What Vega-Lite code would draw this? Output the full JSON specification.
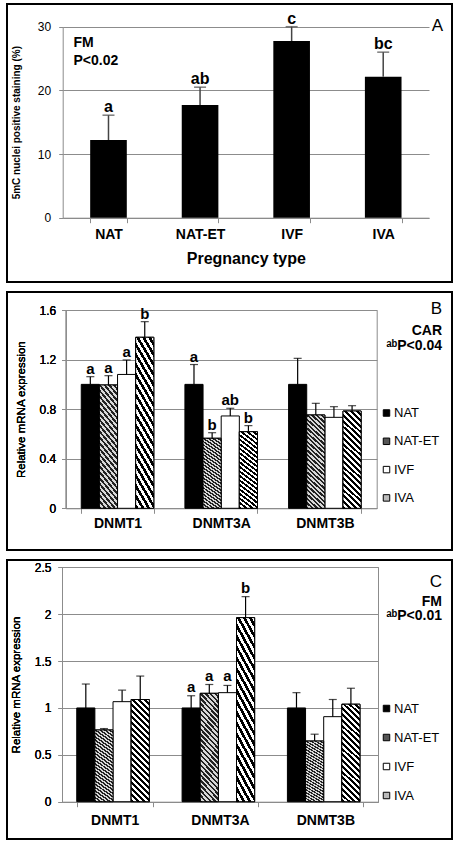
{
"$schema": "https://vega.github.io/schema/vega-lite/v6.json",
"background": "white",
"padding": {"left": 6, "top": 3, "right": 8, "bottom": 6},
"spacing": 8,
"resolve": {"scale": {"fill": "independent"}, "legend": {"fill": "independent"}},
"config": {
  "font": "Liberation Sans",
  "view": {"stroke": "black", "strokeWidth": 2},
  "axis": {"labelColor": "black", "titleColor": "black", "domainColor": "#8c8c8c", "tickColor": "#8c8c8c", "gridColor": "#8c8c8c", "labelFont": "Liberation Sans", "titleFont": "Liberation Sans"},
  "legend": {"labelFont": "Liberation Sans"},
  "title": {"font": "Liberation Sans", "color": "black", "subtitleColor": "black", "subtitleFont": "Liberation Sans", "anchor": "end", "frame": "group", "fontWeight": "normal"}
},
"datasets": {
  "A": [
    {"type": "NAT", "value": 12.2, "err": 16.1, "letter": "a"},
    {"type": "NAT-ET", "value": 17.7, "err": 20.5, "letter": "ab"},
    {"type": "IVF", "value": 27.75, "err": 30, "letter": "c"},
    {"type": "IVA", "value": 22.15, "err": 26.0, "letter": "bc"}
  ],
  "B": [
    {"gene": "DNMT1", "type": "NAT", "value": 1.0, "err": 1.062, "letter": "a"},
    {"gene": "DNMT1", "type": "NAT-ET", "value": 0.995, "err": 1.07, "letter": "a"},
    {"gene": "DNMT1", "type": "IVF", "value": 1.08, "err": 1.197, "letter": "a"},
    {"gene": "DNMT1", "type": "IVA", "value": 1.38, "err": 1.506, "letter": "b"},
    {"gene": "DNMT3A", "type": "NAT", "value": 1.0, "err": 1.16, "letter": "a"},
    {"gene": "DNMT3A", "type": "NAT-ET", "value": 0.565, "err": 0.61, "letter": "b"},
    {"gene": "DNMT3A", "type": "IVF", "value": 0.745, "err": 0.807, "letter": "ab"},
    {"gene": "DNMT3A", "type": "IVA", "value": 0.618, "err": 0.667, "letter": "b"},
    {"gene": "DNMT3B", "type": "NAT", "value": 1.0, "err": 1.21, "letter": ""},
    {"gene": "DNMT3B", "type": "NAT-ET", "value": 0.753, "err": 0.847, "letter": ""},
    {"gene": "DNMT3B", "type": "IVF", "value": 0.734, "err": 0.82, "letter": ""},
    {"gene": "DNMT3B", "type": "IVA", "value": 0.785, "err": 0.828, "letter": ""}
  ],
  "C": [
    {"gene": "DNMT1", "type": "NAT", "value": 1.0, "err": 1.255, "letter": ""},
    {"gene": "DNMT1", "type": "NAT-ET", "value": 0.765, "err": 0.78, "letter": ""},
    {"gene": "DNMT1", "type": "IVF", "value": 1.067, "err": 1.19, "letter": ""},
    {"gene": "DNMT1", "type": "IVA", "value": 1.09, "err": 1.34, "letter": ""},
    {"gene": "DNMT3A", "type": "NAT", "value": 1.0, "err": 1.13, "letter": "a"},
    {"gene": "DNMT3A", "type": "NAT-ET", "value": 1.156, "err": 1.25, "letter": "a"},
    {"gene": "DNMT3A", "type": "IVF", "value": 1.163, "err": 1.24, "letter": "a"},
    {"gene": "DNMT3A", "type": "IVA", "value": 1.963, "err": 2.187, "letter": "b"},
    {"gene": "DNMT3B", "type": "NAT", "value": 1.0, "err": 1.163, "letter": ""},
    {"gene": "DNMT3B", "type": "NAT-ET", "value": 0.647, "err": 0.72, "letter": ""},
    {"gene": "DNMT3B", "type": "IVF", "value": 0.907, "err": 1.09, "letter": ""},
    {"gene": "DNMT3B", "type": "IVA", "value": 1.04, "err": 1.21, "letter": ""}
  ]
},
"vconcat": [
  {
    "width": 445, "height": 278,
    "title": {"text": "A", "fontSize": 17, "offset": -31, "dx": -9},
    "data": {"name": "A"},
    "encoding": {
      "x": {"field": "type", "type": "nominal", "sort": null,
        "scale": {"domain": ["NAT", "NAT-ET", "IVF", "IVA"], "range": [55.7, 422], "paddingInner": 0.6, "paddingOuter": 0.3},
        "axis": {"orient": "bottom", "offset": -64.3, "tickBand": "extent", "labelAngle": 0, "title": "Pregnancy type", "labelFontWeight": "bold", "labelFontSize": 14, "labelPadding": 5, "tickSize": 5, "titleFontSize": 16, "titleFontWeight": "bold", "titlePadding": 9}},
      "y": {"field": "value", "type": "quantitative",
        "scale": {"domain": [0, 30], "range": [213.7, 22.7], "nice": false},
        "axis": {"orient": "left", "offset": -55.7, "values": [0, 10, 20, 30], "grid": true, "tickSize": 4, "labelFontSize": 12, "labelPadding": 8, "title": "5mC nuclei positive  staining (%)", "titleFontSize": 10, "titleFontWeight": "bold", "titlePadding": 16}}
    },
    "layer": [
      {"mark": {"type": "bar", "fill": "black"}},
      {"mark": {"type": "rule", "color": "#444", "strokeWidth": 1.5},
       "encoding": {"y": {"field": "value", "type": "quantitative", "axis": null}, "y2": {"field": "err"}}},
      {"mark": {"type": "tick", "orient": "horizontal", "color": "#444", "size": 12, "thickness": 1.5},
       "encoding": {"y": {"field": "err", "type": "quantitative", "axis": null}}},
      {"mark": {"type": "text", "fontWeight": "bold", "fontSize": 16, "dy": -8},
       "encoding": {"y": {"field": "err", "type": "quantitative", "axis": null}, "text": {"field": "letter"}}},
      {"transform": [{"filter": "datum.type === 'NAT'"}],
       "mark": {"type": "text", "align": "left", "baseline": "top", "fontWeight": "bold", "fontSize": 14, "lineHeight": 18, "dx": -35, "color": "black", "text": ["FM", "P<0.02"]},
       "encoding": {"y": {"datum": 28.6, "type": "quantitative", "axis": null}}}
    ],
    "resolve": {"axis": {"y": "independent"}}
  },
  {
    "width": 445, "height": 258,
    "title": {"text": "B", "fontSize": 17, "offset": -62, "dx": -10, "subtitle": ["CAR", "ᵃᵇP<0.04"], "subtitleFontSize": 14, "subtitleFontWeight": "bold", "subtitleLineHeight": 15, "subtitlePadding": 6},
    "data": {"name": "B"},
    "encoding": {
      "x": {"field": "gene", "type": "nominal", "sort": null,
        "scale": {"domain": ["DNMT1", "DNMT3A", "DNMT3B"], "range": [58.7, 369.7], "paddingInner": 0.3, "paddingOuter": 0.15},
        "axis": {"orient": "bottom", "offset": -41.7, "tickBand": "extent", "labelAngle": 0, "title": null, "labelFontWeight": "bold", "labelFontSize": 14, "labelPadding": 3, "tickSize": 5}},
      "xOffset": {"field": "type", "type": "nominal", "sort": null, "scale": {"domain": ["NAT", "NAT-ET", "IVF", "IVA"], "paddingInner": 0, "paddingOuter": 0}},
      "y": {"field": "value", "type": "quantitative",
        "scale": {"domain": [0, 1.6], "range": [216.3, 18], "nice": false},
        "axis": {"orient": "left", "offset": -58.7, "values": [0, 0.4, 0.8, 1.2, 1.6], "format": "~g", "grid": true, "tickSize": 4, "labelFontSize": 12, "labelPadding": 6, "title": "Relative mRNA expression", "titleFontSize": 11.5, "titleFontWeight": "normal", "titlePadding": 13}}
    },
    "layer": [
      {"mark": {"type": "bar", "stroke": "black", "strokeWidth": 1},
       "encoding": {"fill": {"field": "type", "type": "nominal", "sort": null,
         "scale": {"domain": ["NAT", "NAT-ET", "IVF", "IVA"], "range": ["black", "#555555", "white", "#bbbbbb"]},
         "legend": {"orient": "none", "legendX": 373, "legendY": 114.5, "title": null, "symbolType": "square", "symbolSize": 42, "symbolStrokeColor": "black", "symbolStrokeWidth": 1, "labelFontSize": 13, "labelOffset": 1, "rowPadding": 14.3, "labelColor": "black"}}}},
      {"transform": [{"filter": "datum.type === 'NAT-ET'"}],
       "mark": {"type": "bar", "stroke": "black", "strokeWidth": 1,
         "fill": {"gradient": "linear", "x1": 0, "y1": 1, "x2": 0.206, "y2": -0.143, "stops": [
             {"offset": 0, "color": "#222"}, {"offset": 0.02, "color": "#222"}, {"offset": 0.02, "color": "#d8d8d8"}, {"offset": 0.04, "color": "#d8d8d8"},
             {"offset": 0.04, "color": "#222"}, {"offset": 0.06, "color": "#222"}, {"offset": 0.06, "color": "#d8d8d8"}, {"offset": 0.08, "color": "#d8d8d8"},
             {"offset": 0.08, "color": "#222"}, {"offset": 0.1, "color": "#222"}, {"offset": 0.1, "color": "#d8d8d8"}, {"offset": 0.12, "color": "#d8d8d8"},
             {"offset": 0.12, "color": "#222"}, {"offset": 0.14, "color": "#222"}, {"offset": 0.14, "color": "#d8d8d8"}, {"offset": 0.16, "color": "#d8d8d8"},
             {"offset": 0.16, "color": "#222"}, {"offset": 0.18, "color": "#222"}, {"offset": 0.18, "color": "#d8d8d8"}, {"offset": 0.2, "color": "#d8d8d8"},
             {"offset": 0.2, "color": "#222"}, {"offset": 0.22, "color": "#222"}, {"offset": 0.22, "color": "#d8d8d8"}, {"offset": 0.24, "color": "#d8d8d8"},
             {"offset": 0.24, "color": "#222"}, {"offset": 0.26, "color": "#222"}, {"offset": 0.26, "color": "#d8d8d8"}, {"offset": 0.28, "color": "#d8d8d8"},
             {"offset": 0.28, "color": "#222"}, {"offset": 0.3, "color": "#222"}, {"offset": 0.3, "color": "#d8d8d8"}, {"offset": 0.32, "color": "#d8d8d8"},
             {"offset": 0.32, "color": "#222"}, {"offset": 0.34, "color": "#222"}, {"offset": 0.34, "color": "#d8d8d8"}, {"offset": 0.36, "color": "#d8d8d8"},
             {"offset": 0.36, "color": "#222"}, {"offset": 0.38, "color": "#222"}, {"offset": 0.38, "color": "#d8d8d8"}, {"offset": 0.4, "color": "#d8d8d8"},
             {"offset": 0.4, "color": "#222"}, {"offset": 0.42, "color": "#222"}, {"offset": 0.42, "color": "#d8d8d8"}, {"offset": 0.44, "color": "#d8d8d8"},
             {"offset": 0.44, "color": "#222"}, {"offset": 0.46, "color": "#222"}, {"offset": 0.46, "color": "#d8d8d8"}, {"offset": 0.48, "color": "#d8d8d8"},
             {"offset": 0.48, "color": "#222"}, {"offset": 0.5, "color": "#222"}, {"offset": 0.5, "color": "#d8d8d8"}, {"offset": 0.52, "color": "#d8d8d8"},
             {"offset": 0.52, "color": "#222"}, {"offset": 0.54, "color": "#222"}, {"offset": 0.54, "color": "#d8d8d8"}, {"offset": 0.56, "color": "#d8d8d8"},
             {"offset": 0.56, "color": "#222"}, {"offset": 0.58, "color": "#222"}, {"offset": 0.58, "color": "#d8d8d8"}, {"offset": 0.6, "color": "#d8d8d8"},
             {"offset": 0.6, "color": "#222"}, {"offset": 0.62, "color": "#222"}, {"offset": 0.62, "color": "#d8d8d8"}, {"offset": 0.64, "color": "#d8d8d8"},
             {"offset": 0.64, "color": "#222"}, {"offset": 0.66, "color": "#222"}, {"offset": 0.66, "color": "#d8d8d8"}, {"offset": 0.68, "color": "#d8d8d8"},
             {"offset": 0.68, "color": "#222"}, {"offset": 0.7, "color": "#222"}, {"offset": 0.7, "color": "#d8d8d8"}, {"offset": 0.72, "color": "#d8d8d8"},
             {"offset": 0.72, "color": "#222"}, {"offset": 0.74, "color": "#222"}, {"offset": 0.74, "color": "#d8d8d8"}, {"offset": 0.76, "color": "#d8d8d8"},
             {"offset": 0.76, "color": "#222"}, {"offset": 0.78, "color": "#222"}, {"offset": 0.78, "color": "#d8d8d8"}, {"offset": 0.8, "color": "#d8d8d8"},
             {"offset": 0.8, "color": "#222"}, {"offset": 0.82, "color": "#222"}, {"offset": 0.82, "color": "#d8d8d8"}, {"offset": 0.84, "color": "#d8d8d8"},
             {"offset": 0.84, "color": "#222"}, {"offset": 0.86, "color": "#222"}, {"offset": 0.86, "color": "#d8d8d8"}, {"offset": 0.88, "color": "#d8d8d8"},
             {"offset": 0.88, "color": "#222"}, {"offset": 0.9, "color": "#222"}, {"offset": 0.9, "color": "#d8d8d8"}, {"offset": 0.92, "color": "#d8d8d8"},
             {"offset": 0.92, "color": "#222"}, {"offset": 0.94, "color": "#222"}, {"offset": 0.94, "color": "#d8d8d8"}, {"offset": 0.96, "color": "#d8d8d8"},
             {"offset": 0.96, "color": "#222"}, {"offset": 0.98, "color": "#222"}, {"offset": 0.98, "color": "#d8d8d8"}, {"offset": 1, "color": "#d8d8d8"}
           ]}}},
      {"transform": [{"filter": "datum.type === 'IVA'"}],
       "mark": {"type": "bar", "stroke": "black", "strokeWidth": 1,
         "fill": {"gradient": "linear", "x1": 0, "y1": 1, "x2": 0.206, "y2": -0.143, "stops": [
             {"offset": 0, "color": "#000"}, {"offset": 0.025, "color": "#000"}, {"offset": 0.025, "color": "#fff"}, {"offset": 0.05, "color": "#fff"},
             {"offset": 0.05, "color": "#000"}, {"offset": 0.075, "color": "#000"}, {"offset": 0.075, "color": "#fff"}, {"offset": 0.1, "color": "#fff"},
             {"offset": 0.1, "color": "#000"}, {"offset": 0.125, "color": "#000"}, {"offset": 0.125, "color": "#fff"}, {"offset": 0.15, "color": "#fff"},
             {"offset": 0.15, "color": "#000"}, {"offset": 0.175, "color": "#000"}, {"offset": 0.175, "color": "#fff"}, {"offset": 0.2, "color": "#fff"},
             {"offset": 0.2, "color": "#000"}, {"offset": 0.225, "color": "#000"}, {"offset": 0.225, "color": "#fff"}, {"offset": 0.25, "color": "#fff"},
             {"offset": 0.25, "color": "#000"}, {"offset": 0.275, "color": "#000"}, {"offset": 0.275, "color": "#fff"}, {"offset": 0.3, "color": "#fff"},
             {"offset": 0.3, "color": "#000"}, {"offset": 0.325, "color": "#000"}, {"offset": 0.325, "color": "#fff"}, {"offset": 0.35, "color": "#fff"},
             {"offset": 0.35, "color": "#000"}, {"offset": 0.375, "color": "#000"}, {"offset": 0.375, "color": "#fff"}, {"offset": 0.4, "color": "#fff"},
             {"offset": 0.4, "color": "#000"}, {"offset": 0.425, "color": "#000"}, {"offset": 0.425, "color": "#fff"}, {"offset": 0.45, "color": "#fff"},
             {"offset": 0.45, "color": "#000"}, {"offset": 0.475, "color": "#000"}, {"offset": 0.475, "color": "#fff"}, {"offset": 0.5, "color": "#fff"},
             {"offset": 0.5, "color": "#000"}, {"offset": 0.525, "color": "#000"}, {"offset": 0.525, "color": "#fff"}, {"offset": 0.55, "color": "#fff"},
             {"offset": 0.55, "color": "#000"}, {"offset": 0.575, "color": "#000"}, {"offset": 0.575, "color": "#fff"}, {"offset": 0.6, "color": "#fff"},
             {"offset": 0.6, "color": "#000"}, {"offset": 0.625, "color": "#000"}, {"offset": 0.625, "color": "#fff"}, {"offset": 0.65, "color": "#fff"},
             {"offset": 0.65, "color": "#000"}, {"offset": 0.675, "color": "#000"}, {"offset": 0.675, "color": "#fff"}, {"offset": 0.7, "color": "#fff"},
             {"offset": 0.7, "color": "#000"}, {"offset": 0.725, "color": "#000"}, {"offset": 0.725, "color": "#fff"}, {"offset": 0.75, "color": "#fff"},
             {"offset": 0.75, "color": "#000"}, {"offset": 0.775, "color": "#000"}, {"offset": 0.775, "color": "#fff"}, {"offset": 0.8, "color": "#fff"},
             {"offset": 0.8, "color": "#000"}, {"offset": 0.825, "color": "#000"}, {"offset": 0.825, "color": "#fff"}, {"offset": 0.85, "color": "#fff"},
             {"offset": 0.85, "color": "#000"}, {"offset": 0.875, "color": "#000"}, {"offset": 0.875, "color": "#fff"}, {"offset": 0.9, "color": "#fff"},
             {"offset": 0.9, "color": "#000"}, {"offset": 0.925, "color": "#000"}, {"offset": 0.925, "color": "#fff"}, {"offset": 0.95, "color": "#fff"},
             {"offset": 0.95, "color": "#000"}, {"offset": 0.975, "color": "#000"}, {"offset": 0.975, "color": "#fff"}, {"offset": 1, "color": "#fff"}
           ]}}},
      {"mark": {"type": "rule", "color": "black", "strokeWidth": 1.2},
       "encoding": {"y": {"field": "value", "type": "quantitative",
         "axis": {"orient": "right", "offset": -75.3, "labels": false, "ticks": false, "grid": false, "title": null, "domainColor": "#8c8c8c"}},
         "y2": {"field": "err"}}},
      {"mark": {"type": "tick", "orient": "horizontal", "color": "black", "size": 8, "thickness": 1.2},
       "encoding": {"y": {"field": "err", "type": "quantitative", "axis": null}}},
      {"mark": {"type": "text", "fontWeight": "bold", "fontSize": 15, "dy": -8},
       "encoding": {"y": {"field": "err", "type": "quantitative", "axis": null}, "text": {"field": "letter"}}}
    ],
    "resolve": {"axis": {"y": "independent"}}
  },
  {
    "width": 445, "height": 279,
    "title": {"text": "C", "fontSize": 17, "offset": -64, "dx": -10, "subtitle": ["FM", "ᵃᵇP<0.01"], "subtitleFontSize": 14, "subtitleFontWeight": "bold", "subtitleLineHeight": 14.5, "subtitlePadding": 3.5},
    "data": {"name": "C"},
    "encoding": {
      "x": {"field": "gene", "type": "nominal", "sort": null,
        "scale": {"domain": ["DNMT1", "DNMT3A", "DNMT3B"], "range": [55, 371], "paddingInner": 0.28, "paddingOuter": 0.14},
        "axis": {"orient": "bottom", "offset": -37.3, "tickBand": "extent", "labelAngle": 0, "title": null, "labelFontWeight": "bold", "labelFontSize": 14, "labelPadding": 7, "tickSize": 5}},
      "xOffset": {"field": "type", "type": "nominal", "sort": null, "scale": {"domain": ["NAT", "NAT-ET", "IVF", "IVA"], "paddingInner": 0, "paddingOuter": 0}},
      "y": {"field": "value", "type": "quantitative",
        "scale": {"domain": [0, 2.5], "range": [241.7, 7.3], "nice": false},
        "axis": {"orient": "left", "offset": -55, "values": [0, 0.5, 1, 1.5, 2, 2.5], "format": "~g", "grid": true, "tickSize": 4, "labelFontSize": 12, "labelPadding": 7, "title": "Relative mRNA expression", "titleFontSize": 11.5, "titleFontWeight": "normal", "titlePadding": 13}}
    },
    "layer": [
      {"mark": {"type": "bar", "stroke": "black", "strokeWidth": 1},
       "encoding": {"fill": {"field": "type", "type": "nominal", "sort": null,
         "scale": {"domain": ["NAT", "NAT-ET", "IVF", "IVA"], "range": ["black", "#555555", "white", "#bbbbbb"]},
         "legend": {"orient": "none", "legendX": 373, "legendY": 142, "title": null, "symbolType": "square", "symbolSize": 42, "symbolStrokeColor": "black", "symbolStrokeWidth": 1, "labelFontSize": 13, "labelOffset": 1, "rowPadding": 15, "labelColor": "black"}}}},
      {"transform": [{"filter": "datum.type === 'NAT-ET'"}],
       "mark": {"type": "bar", "stroke": "black", "strokeWidth": 1,
         "fill": {"gradient": "linear", "x1": 0, "y1": 1, "x2": 0.206, "y2": -0.143, "stops": [
             {"offset": 0, "color": "#222"}, {"offset": 0.02, "color": "#222"}, {"offset": 0.02, "color": "#d8d8d8"}, {"offset": 0.04, "color": "#d8d8d8"},
             {"offset": 0.04, "color": "#222"}, {"offset": 0.06, "color": "#222"}, {"offset": 0.06, "color": "#d8d8d8"}, {"offset": 0.08, "color": "#d8d8d8"},
             {"offset": 0.08, "color": "#222"}, {"offset": 0.1, "color": "#222"}, {"offset": 0.1, "color": "#d8d8d8"}, {"offset": 0.12, "color": "#d8d8d8"},
             {"offset": 0.12, "color": "#222"}, {"offset": 0.14, "color": "#222"}, {"offset": 0.14, "color": "#d8d8d8"}, {"offset": 0.16, "color": "#d8d8d8"},
             {"offset": 0.16, "color": "#222"}, {"offset": 0.18, "color": "#222"}, {"offset": 0.18, "color": "#d8d8d8"}, {"offset": 0.2, "color": "#d8d8d8"},
             {"offset": 0.2, "color": "#222"}, {"offset": 0.22, "color": "#222"}, {"offset": 0.22, "color": "#d8d8d8"}, {"offset": 0.24, "color": "#d8d8d8"},
             {"offset": 0.24, "color": "#222"}, {"offset": 0.26, "color": "#222"}, {"offset": 0.26, "color": "#d8d8d8"}, {"offset": 0.28, "color": "#d8d8d8"},
             {"offset": 0.28, "color": "#222"}, {"offset": 0.3, "color": "#222"}, {"offset": 0.3, "color": "#d8d8d8"}, {"offset": 0.32, "color": "#d8d8d8"},
             {"offset": 0.32, "color": "#222"}, {"offset": 0.34, "color": "#222"}, {"offset": 0.34, "color": "#d8d8d8"}, {"offset": 0.36, "color": "#d8d8d8"},
             {"offset": 0.36, "color": "#222"}, {"offset": 0.38, "color": "#222"}, {"offset": 0.38, "color": "#d8d8d8"}, {"offset": 0.4, "color": "#d8d8d8"},
             {"offset": 0.4, "color": "#222"}, {"offset": 0.42, "color": "#222"}, {"offset": 0.42, "color": "#d8d8d8"}, {"offset": 0.44, "color": "#d8d8d8"},
             {"offset": 0.44, "color": "#222"}, {"offset": 0.46, "color": "#222"}, {"offset": 0.46, "color": "#d8d8d8"}, {"offset": 0.48, "color": "#d8d8d8"},
             {"offset": 0.48, "color": "#222"}, {"offset": 0.5, "color": "#222"}, {"offset": 0.5, "color": "#d8d8d8"}, {"offset": 0.52, "color": "#d8d8d8"},
             {"offset": 0.52, "color": "#222"}, {"offset": 0.54, "color": "#222"}, {"offset": 0.54, "color": "#d8d8d8"}, {"offset": 0.56, "color": "#d8d8d8"},
             {"offset": 0.56, "color": "#222"}, {"offset": 0.58, "color": "#222"}, {"offset": 0.58, "color": "#d8d8d8"}, {"offset": 0.6, "color": "#d8d8d8"},
             {"offset": 0.6, "color": "#222"}, {"offset": 0.62, "color": "#222"}, {"offset": 0.62, "color": "#d8d8d8"}, {"offset": 0.64, "color": "#d8d8d8"},
             {"offset": 0.64, "color": "#222"}, {"offset": 0.66, "color": "#222"}, {"offset": 0.66, "color": "#d8d8d8"}, {"offset": 0.68, "color": "#d8d8d8"},
             {"offset": 0.68, "color": "#222"}, {"offset": 0.7, "color": "#222"}, {"offset": 0.7, "color": "#d8d8d8"}, {"offset": 0.72, "color": "#d8d8d8"},
             {"offset": 0.72, "color": "#222"}, {"offset": 0.74, "color": "#222"}, {"offset": 0.74, "color": "#d8d8d8"}, {"offset": 0.76, "color": "#d8d8d8"},
             {"offset": 0.76, "color": "#222"}, {"offset": 0.78, "color": "#222"}, {"offset": 0.78, "color": "#d8d8d8"}, {"offset": 0.8, "color": "#d8d8d8"},
             {"offset": 0.8, "color": "#222"}, {"offset": 0.82, "color": "#222"}, {"offset": 0.82, "color": "#d8d8d8"}, {"offset": 0.84, "color": "#d8d8d8"},
             {"offset": 0.84, "color": "#222"}, {"offset": 0.86, "color": "#222"}, {"offset": 0.86, "color": "#d8d8d8"}, {"offset": 0.88, "color": "#d8d8d8"},
             {"offset": 0.88, "color": "#222"}, {"offset": 0.9, "color": "#222"}, {"offset": 0.9, "color": "#d8d8d8"}, {"offset": 0.92, "color": "#d8d8d8"},
             {"offset": 0.92, "color": "#222"}, {"offset": 0.94, "color": "#222"}, {"offset": 0.94, "color": "#d8d8d8"}, {"offset": 0.96, "color": "#d8d8d8"},
             {"offset": 0.96, "color": "#222"}, {"offset": 0.98, "color": "#222"}, {"offset": 0.98, "color": "#d8d8d8"}, {"offset": 1, "color": "#d8d8d8"}
           ]}}},
      {"transform": [{"filter": "datum.type === 'IVA'"}],
       "mark": {"type": "bar", "stroke": "black", "strokeWidth": 1,
         "fill": {"gradient": "linear", "x1": 0, "y1": 1, "x2": 0.206, "y2": -0.143, "stops": [
             {"offset": 0, "color": "#000"}, {"offset": 0.025, "color": "#000"}, {"offset": 0.025, "color": "#fff"}, {"offset": 0.05, "color": "#fff"},
             {"offset": 0.05, "color": "#000"}, {"offset": 0.075, "color": "#000"}, {"offset": 0.075, "color": "#fff"}, {"offset": 0.1, "color": "#fff"},
             {"offset": 0.1, "color": "#000"}, {"offset": 0.125, "color": "#000"}, {"offset": 0.125, "color": "#fff"}, {"offset": 0.15, "color": "#fff"},
             {"offset": 0.15, "color": "#000"}, {"offset": 0.175, "color": "#000"}, {"offset": 0.175, "color": "#fff"}, {"offset": 0.2, "color": "#fff"},
             {"offset": 0.2, "color": "#000"}, {"offset": 0.225, "color": "#000"}, {"offset": 0.225, "color": "#fff"}, {"offset": 0.25, "color": "#fff"},
             {"offset": 0.25, "color": "#000"}, {"offset": 0.275, "color": "#000"}, {"offset": 0.275, "color": "#fff"}, {"offset": 0.3, "color": "#fff"},
             {"offset": 0.3, "color": "#000"}, {"offset": 0.325, "color": "#000"}, {"offset": 0.325, "color": "#fff"}, {"offset": 0.35, "color": "#fff"},
             {"offset": 0.35, "color": "#000"}, {"offset": 0.375, "color": "#000"}, {"offset": 0.375, "color": "#fff"}, {"offset": 0.4, "color": "#fff"},
             {"offset": 0.4, "color": "#000"}, {"offset": 0.425, "color": "#000"}, {"offset": 0.425, "color": "#fff"}, {"offset": 0.45, "color": "#fff"},
             {"offset": 0.45, "color": "#000"}, {"offset": 0.475, "color": "#000"}, {"offset": 0.475, "color": "#fff"}, {"offset": 0.5, "color": "#fff"},
             {"offset": 0.5, "color": "#000"}, {"offset": 0.525, "color": "#000"}, {"offset": 0.525, "color": "#fff"}, {"offset": 0.55, "color": "#fff"},
             {"offset": 0.55, "color": "#000"}, {"offset": 0.575, "color": "#000"}, {"offset": 0.575, "color": "#fff"}, {"offset": 0.6, "color": "#fff"},
             {"offset": 0.6, "color": "#000"}, {"offset": 0.625, "color": "#000"}, {"offset": 0.625, "color": "#fff"}, {"offset": 0.65, "color": "#fff"},
             {"offset": 0.65, "color": "#000"}, {"offset": 0.675, "color": "#000"}, {"offset": 0.675, "color": "#fff"}, {"offset": 0.7, "color": "#fff"},
             {"offset": 0.7, "color": "#000"}, {"offset": 0.725, "color": "#000"}, {"offset": 0.725, "color": "#fff"}, {"offset": 0.75, "color": "#fff"},
             {"offset": 0.75, "color": "#000"}, {"offset": 0.775, "color": "#000"}, {"offset": 0.775, "color": "#fff"}, {"offset": 0.8, "color": "#fff"},
             {"offset": 0.8, "color": "#000"}, {"offset": 0.825, "color": "#000"}, {"offset": 0.825, "color": "#fff"}, {"offset": 0.85, "color": "#fff"},
             {"offset": 0.85, "color": "#000"}, {"offset": 0.875, "color": "#000"}, {"offset": 0.875, "color": "#fff"}, {"offset": 0.9, "color": "#fff"},
             {"offset": 0.9, "color": "#000"}, {"offset": 0.925, "color": "#000"}, {"offset": 0.925, "color": "#fff"}, {"offset": 0.95, "color": "#fff"},
             {"offset": 0.95, "color": "#000"}, {"offset": 0.975, "color": "#000"}, {"offset": 0.975, "color": "#fff"}, {"offset": 1, "color": "#fff"}
           ]}}},
      {"mark": {"type": "rule", "color": "black", "strokeWidth": 1.2},
       "encoding": {"y": {"field": "value", "type": "quantitative",
         "axis": {"orient": "right", "offset": -74, "labels": false, "ticks": false, "grid": false, "title": null, "domainColor": "#8c8c8c"}},
         "y2": {"field": "err"}}},
      {"mark": {"type": "tick", "orient": "horizontal", "color": "black", "size": 8, "thickness": 1.2},
       "encoding": {"y": {"field": "err", "type": "quantitative", "axis": null}}},
      {"mark": {"type": "text", "fontWeight": "bold", "fontSize": 15, "dy": -9},
       "encoding": {"y": {"field": "err", "type": "quantitative", "axis": null}, "text": {"field": "letter"}}}
    ],
    "resolve": {"axis": {"y": "independent"}}
  }
]
}
